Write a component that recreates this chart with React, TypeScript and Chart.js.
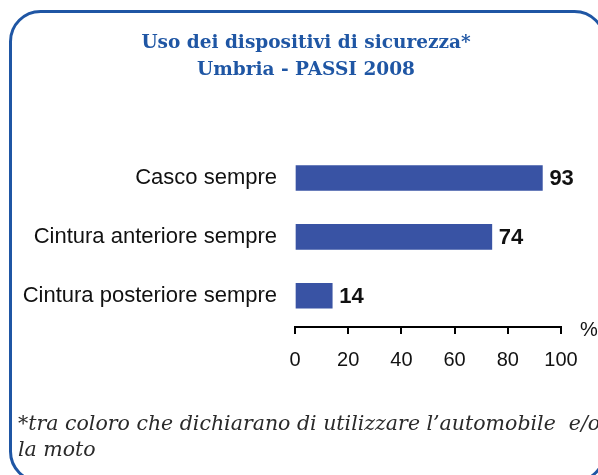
import React, { useEffect, useRef } from "react";
import { Chart, registerables } from "chart.js";

Chart.register(...registerables);

const categories = ["Casco sempre", "Cintura anteriore sempre", "Cintura posteriore sempre"];
const values = [93, 74, 14];
const xTicks = [0, 20, 40, 60, 80, 100];
const titleLines = ["Uso dei dispositivi di sicurezza*", "Umbria - PASSI 2008"];
const footnoteLines = [
  "*tra coloro che dichiarano di utilizzare l\u2019automobile  e/o",
  "la moto",
];
const unitLabel = "%";

const BLUE = "#1f56a4";
const BAR = "#3953a4";
const SANS = "'Liberation Sans', Arial, sans-serif";
const SERIF = "'DejaVu Serif', serif";

// Frame, title, footnote, unit and value labels drawn on top of the chart
const framePlugin = {
  id: "frame",
  afterDraw(chart: any) {
    const ctx = chart.ctx as CanvasRenderingContext2D;
    ctx.save();
    ctx.strokeStyle = BLUE;
    ctx.lineWidth = 3;
    ctx.beginPath();
    (ctx as any).roundRect(10.5, 11.5, 594, 470, 30);
    ctx.stroke();

    ctx.fillStyle = BLUE;
    ctx.font = `bold 18.5px ${SERIF}`;
    ctx.textAlign = "center";
    ctx.textBaseline = "middle";
    ctx.fillText(titleLines[0], 306, 43);
    ctx.fillText(titleLines[1], 306, 70);

    ctx.fillStyle = "#2a2a2a";
    ctx.font = `italic 20.5px ${SERIF}`;
    ctx.textAlign = "left";
    ctx.fillText(footnoteLines[0], 18, 425);
    ctx.fillText(footnoteLines[1], 18, 451);

    ctx.fillStyle = "#111";
    ctx.font = `20px ${SANS}`;
    ctx.fillText(unitLabel, 580, 330);

    const meta = chart.getDatasetMeta(0);
    ctx.font = `bold 22px ${SANS}`;
    meta.data.forEach((bar: any, i: number) => {
      ctx.fillText(String(values[i]), bar.x + 7, bar.y + 1);
    });
    ctx.restore();
  },
};

export default function App() {
  const ref = useRef<HTMLCanvasElement | null>(null);

  useEffect(() => {
    if (!ref.current) return;
    const chart = new Chart(ref.current, {
      type: "bar",
      data: {
        datasets: [
          {
            data: values.map((v, i) => ({ x: v, y: i })),
            backgroundColor: BAR,
            borderWidth: 0,
            barThickness: 25,
          },
        ],
      },
      options: {
        indexAxis: "y",
        animation: false,
        responsive: false,
        maintainAspectRatio: false,
        layout: { padding: { top: 148.5, right: 37, left: 0, bottom: 0 } },
        plugins: {
          legend: { display: false },
          tooltip: { enabled: false },
          title: { display: false },
        },
        scales: {
          x: {
            type: "linear",
            min: 0,
            max: 100,
            afterBuildTicks: (s: any) => {
              s.ticks = xTicks.map((v) => ({ value: v }));
            },
            afterFit: (s: any) => {
              s.height = 148;
            },
            ticks: {
              color: "#111",
              font: { family: SANS, size: 20 },
              padding: 14,
              maxRotation: 0,
            },
            grid: {
              drawOnChartArea: false,
              drawTicks: true,
              tickLength: 7,
              color: "#000",
              lineWidth: 2,
            },
            border: { display: true, color: "#000", width: 2 },
          },
          y: {
            type: "linear",
            reverse: true,
            offset: false,
            min: -0.5,
            max: 2.53,
            afterBuildTicks: (s: any) => {
              s.ticks = categories.map((_, i) => ({ value: i }));
            },
            afterFit: (s: any) => {
              s.width = 295;
            },
            ticks: {
              color: "#111",
              font: { family: SANS, size: 22 },
              padding: 18,
              callback: (v: any) => categories[v as number] ?? "",
            },
            grid: { display: false, drawTicks: false },
            border: { display: false },
          },
        },
      },
      plugins: [framePlugin],
    });
    return () => chart.destroy();
  }, []);

  return (
    <div style={{ position: "absolute", left: 0, top: 0, width: 598, height: 475, background: "#fff" }}>
      <canvas ref={ref} width={598} height={475} style={{ display: "block", width: 598, height: 475 }} />
    </div>
  );
}
